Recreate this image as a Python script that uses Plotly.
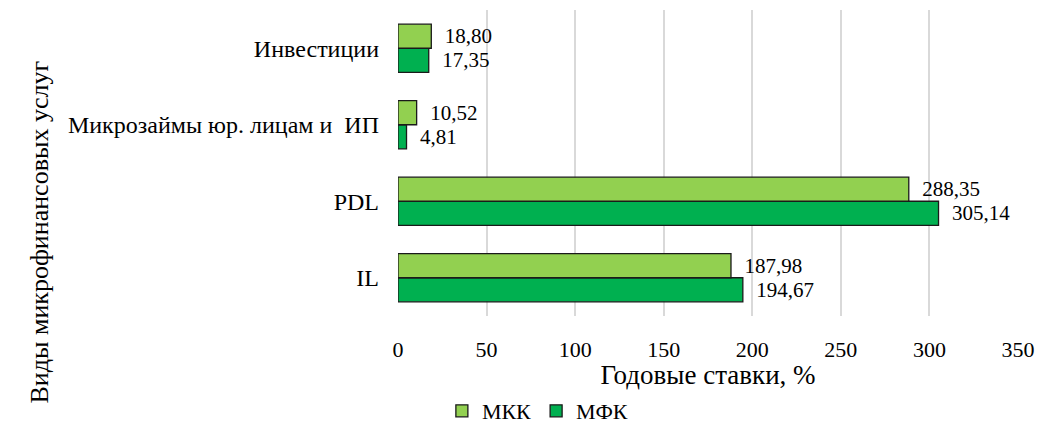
import plotly.graph_objects as go

categories = ["IL", "PDL", "Микрозаймы юр. лицам и  ИП", "Инвестиции"]
mkk_values = [187.98, 288.35, 10.52, 18.80]
mfk_values = [194.67, 305.14, 4.81, 17.35]
x_ticks = [0, 50, 100, 150, 200, 250, 300, 350]

def fmt(v):
    return "\u00a0\u00a0" + f"{v:.2f}".replace(".", ",")

FONT = "Liberation Serif, Times New Roman, serif"

fig = go.Figure()
fig.add_trace(go.Bar(
    y=categories, x=mfk_values, orientation="h", name="МФК",
    marker=dict(color="#00B050", line=dict(color="#1a1a1a", width=1.3)),
    text=[fmt(v) for v in mfk_values], textposition="outside",
    textfont=dict(family=FONT, size=21, color="#000"), cliponaxis=False,
))
fig.add_trace(go.Bar(
    y=categories, x=mkk_values, orientation="h", name="МКК",
    marker=dict(color="#92D050", line=dict(color="#1a1a1a", width=1.3)),
    text=[fmt(v) for v in mkk_values], textposition="outside",
    textfont=dict(family=FONT, size=21, color="#000"), cliponaxis=False,
))

fig.update_layout(
    width=1038, height=424,
    margin=dict(l=390, r=28, t=2, b=116, autoexpand=False),
    paper_bgcolor="white", plot_bgcolor="white",
    barmode="group", bargap=0.37, bargroupgap=0,
    font=dict(family=FONT, size=21, color="#000"),
    showlegend=True,
    legend=dict(orientation="h", xref="container", yref="container",
                x=0.51, y=0.0, xanchor="center", yanchor="bottom",
                traceorder="reversed", font=dict(size=22), itemwidth=30),
    xaxis=dict(range=[0, 350], tickvals=x_ticks, showgrid=True,
               gridcolor="#d9d9d9", gridwidth=2, zeroline=False,
               showline=False, ticklabelstandoff=18, automargin=False,
               ticklabeloverflow="allow",
               tickfont=dict(size=22),
               title=dict(text="Годовые ставки, %", standoff=2,
                          font=dict(size=27))),
    yaxis=dict(showgrid=False, showline=False, zeroline=False,
               ticklabelstandoff=18, type="category", automargin=False,
               tickfont=dict(size=24)),
    annotations=[dict(text="Виды микрофинансовых услуг", textangle=-90,
                      xref="paper", yref="paper", x=-0.578, y=0.275,
                      xanchor="center", yanchor="middle", showarrow=False,
                      font=dict(size=26))],
)

fig.write_html("out.html")
